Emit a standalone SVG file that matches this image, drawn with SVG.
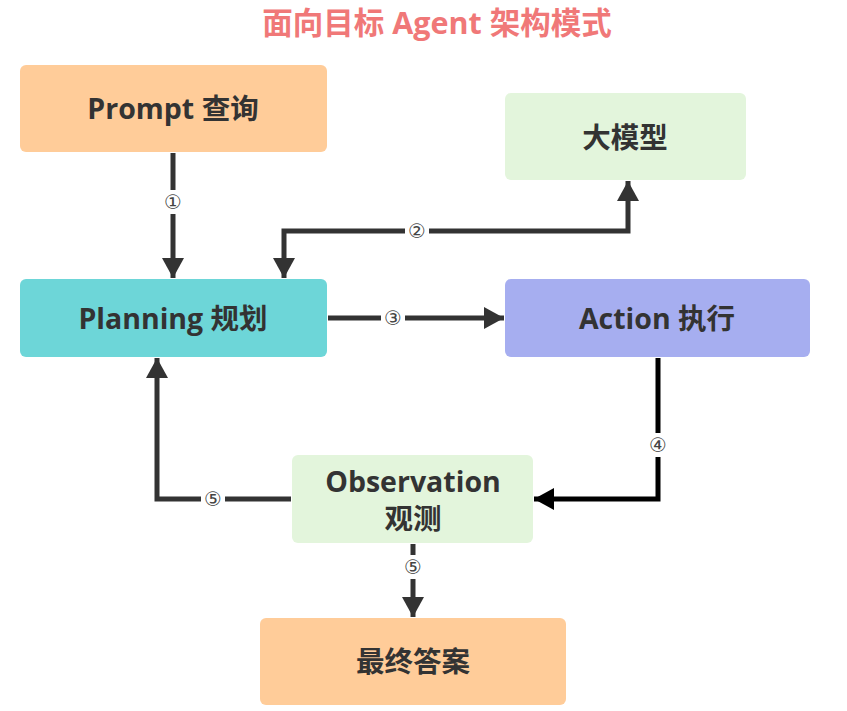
<svg xmlns="http://www.w3.org/2000/svg" width="847" height="711" viewBox="0 0 847 711">
<style>
.t{font-family:"Open Sans","Noto Sans CJK SC",sans-serif;font-weight:bold;font-size:28.5px;fill:#333;text-anchor:middle;dominant-baseline:central}
.title{font-family:"Open Sans","Noto Sans CJK SC",sans-serif;font-weight:bold;font-size:30.5px;fill:#f07878;text-anchor:middle;dominant-baseline:central}
.e{fill:none;stroke:#333;stroke-width:5}
.lb{font-family:"DejaVu Sans","Noto Sans CJK SC",sans-serif;font-size:20px;fill:#444;text-anchor:middle;dominant-baseline:central}
.bg{fill:#fff}
</style>
<defs>
<marker id="a" markerUnits="userSpaceOnUse" markerWidth="22" markerHeight="22" refX="20" refY="11" orient="auto-start-reverse"><path d="M0,0 L20,11 L0,22 Z" fill="#333"/></marker>
<marker id="ak" markerUnits="userSpaceOnUse" markerWidth="22" markerHeight="22" refX="20" refY="11" orient="auto"><path d="M0,0 L20,11 L0,22 Z" fill="#000"/></marker>
</defs>
<rect width="847" height="711" fill="#fff"/>
<text class="title" x="437" y="22">面向目标 Agent 架构模式</text>
<g id="connectors">
<path class="e" d="M173,153 V278" marker-end="url(#a)"/>
<path class="e" d="M284,278 V231 H628 V181" marker-start="url(#a)" marker-end="url(#a)"/>
<path class="e" d="M328,318 H504" marker-end="url(#a)"/>
<path class="e" d="M658,358 V499 H534" style="stroke:#000" marker-end="url(#ak)"/>
<path class="e" d="M291,499 H157 V358" marker-end="url(#a)"/>
<path class="e" d="M413,544 V617" marker-end="url(#a)"/>
<rect class="bg" x="162" y="190" width="22" height="24"/><text class="lb" x="173" y="202">①</text>
<rect class="bg" x="405" y="219" width="24" height="24"/><text class="lb" x="417" y="231">②</text>
<rect class="bg" x="381" y="306" width="24" height="24"/><text class="lb" x="393" y="318">③</text>
<rect class="bg" x="647" y="433" width="22" height="24"/><text class="lb" x="658" y="445">④</text>
<rect class="bg" x="201" y="487" width="24" height="24"/><text class="lb" x="213" y="499">⑤</text>
<rect class="bg" x="402" y="555" width="22" height="24"/><text class="lb" x="413" y="567">⑤</text>
</g>
<g id="prompt"><rect x="20" y="65" width="307" height="87" rx="6" fill="#ffcc99"/><text class="t" x="173" y="108">Prompt 查询</text></g>
<g id="llm"><rect x="505" y="93" width="241" height="87" rx="6" fill="#e3f5dc"/><text class="t" x="625" y="137">大模型</text></g>
<g id="planning"><rect x="20" y="279" width="307" height="78" rx="6" fill="#6dd6d8"/><text class="t" x="173" y="318">Planning 规划</text></g>
<g id="action"><rect x="505" y="279" width="305" height="78" rx="6" fill="#a6aef0"/><text class="t" x="657" y="318">Action 执行</text></g>
<g id="observation"><rect x="292" y="455" width="241" height="88" rx="6" fill="#e3f5dc"/><text class="t" x="413" y="481">Observation</text><text class="t" x="413" y="518">观测</text></g>
<g id="answer"><rect x="260" y="618" width="306" height="87" rx="6" fill="#ffcc99"/><text class="t" x="413" y="661">最终答案</text></g>
</svg>
